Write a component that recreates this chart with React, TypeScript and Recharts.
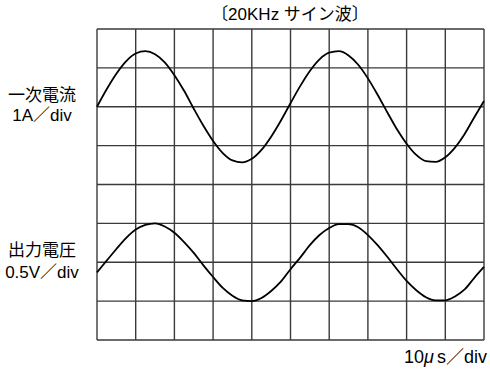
import { LineChart, Line, XAxis, YAxis, CartesianGrid } from 'recharts';

// time in µs (10µs/div, 10 div)
const timeUs = [
  0, 2.5, 5, 7.5, 10, 12.5, 15, 17.5, 20, 22.5, 25, 27.5, 30, 32.5, 35, 37.5, 40, 42.5, 45, 47.5,
  50, 52.5, 55, 57.5, 60, 62.5, 65, 67.5, 70, 72.5, 75, 77.5, 80, 82.5, 85, 87.5, 90, 92.5, 95, 97.5, 100,
];

// primary current, A (1A/div)
const primaryCurrent = [
  0, 0.45, 0.85, 1.17, 1.37, 1.43, 1.35, 1.14, 0.81, 0.41, -0.05, -0.49, -0.88, -1.19, -1.38, -1.43, -1.34, -1.11, -0.77, -0.36,
  0.09, 0.53, 0.92, 1.22, 1.39, 1.43, 1.32, 1.08, 0.73, 0.31, -0.14, -0.58, -0.95, -1.24, -1.4, -1.42, -1.3, -1.05, -0.7, -0.27, 0.15,
];

// output voltage, V (0.5V/div)
const outputVoltage = [
  -0.13, 0.02, 0.17, 0.31, 0.42, 0.48, 0.5, 0.46, 0.38, 0.26, 0.12, -0.04, -0.19, -0.33, -0.43, -0.49, -0.5, -0.46, -0.37, -0.25,
  -0.09, 0.06, 0.22, 0.35, 0.44, 0.49, 0.49, 0.45, 0.35, 0.22, 0.07, -0.09, -0.24, -0.36, -0.45, -0.49, -0.49, -0.44, -0.35, -0.2, -0.06,
];

const timeTicks = [0, 10, 20, 30, 40, 50, 60, 70, 80, 90, 100];
const currentTicks = [-6, -5, -4, -3, -2, -1, 0, 1, 2];

const data = timeUs.map((t, i) => ({ t, current: primaryCurrent[i], voltage: outputVoltage[i] }));

const font = '"Liberation Sans", "Noto Sans CJK JP", sans-serif';

const label = (top: number, text: string) => (
  <div style={{ position: 'absolute', left: -4, top, width: 92, textAlign: 'center', fontSize: 17, lineHeight: '20px', whiteSpace: 'nowrap' }}>
    {text}
  </div>
);

export default function App() {
  return (
    <div style={{ position: 'absolute', left: 0, top: 0, width: 490, height: 369, background: '#fff', fontFamily: font, color: '#000' }}>
      <LineChart width={490} height={369} data={data} margin={{ top: 29, right: 6, bottom: 29, left: 97 }}>
        <CartesianGrid stroke="#3a3a3a" strokeWidth={1.4} yAxisId="i" />
        <XAxis dataKey="t" type="number" domain={[0, 100]} ticks={timeTicks} hide />
        <YAxis yAxisId="i" type="number" domain={[-6, 2]} ticks={currentTicks} hide />
        <YAxis yAxisId="v" type="number" domain={[-1, 3]} hide />
        <Line yAxisId="i" type="monotone" dataKey="current" stroke="#000" strokeWidth={1.8} dot={false} isAnimationActive={false} />
        <Line yAxisId="v" type="monotone" dataKey="voltage" stroke="#000" strokeWidth={1.8} dot={false} isAnimationActive={false} />
      </LineChart>

      <div style={{ position: 'absolute', left: 190, top: 5, width: 200, textAlign: 'center', fontSize: 17, lineHeight: '20px', whiteSpace: 'nowrap' }}>
        〔20KHz サイン波〕
      </div>
      {label(86, '一次電流')}
      {label(106, '1A／div')}
      {label(241, '出力電圧')}
      {label(263, '0.5V／div')}
      <div style={{ position: 'absolute', right: 3, top: 347, fontSize: 18, lineHeight: '20px', whiteSpace: 'nowrap' }}>
        10<span style={{ fontStyle: 'italic', marginRight: 3 }}>μ</span>s／div
      </div>
    </div>
  );
}
